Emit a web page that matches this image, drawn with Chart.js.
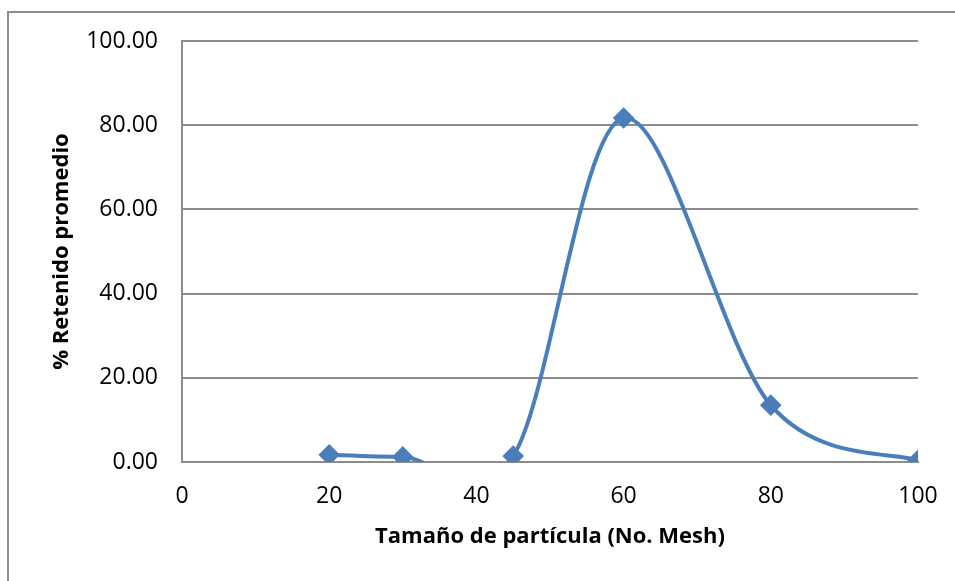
<!DOCTYPE html>
<html>
<head>
<meta charset="utf-8">
<script src="https://cdn.jsdelivr.net/npm/chart.js@4.4.0/dist/chart.umd.min.js"></script>
<style>
html,body{margin:0;padding:0;background:#fff;overflow:hidden;}
#wrap{position:absolute;left:0;top:0;width:955px;height:581px;}
#frame{position:absolute;left:7px;top:11px;width:1200px;height:900px;border-left:2px solid #8c8c8c;border-top:2px solid #8c8c8c;}
canvas{position:absolute;left:0;top:0;}
</style>
</head>
<body>
<div id="wrap">
<div id="frame"></div>
<canvas id="c" width="955" height="581"></canvas>
</div>
<script>
const meshSizes = [20, 30, 45, 60, 80, 100];
const retained = [1.7, 1.2, 1.4, 81.7, 13.5, 0.4];
const xTicks = [0, 20, 40, 60, 80, 100];
const yTicks = [0, 20, 40, 60, 80, 100];
const xTitle = 'Tamaño de partícula (No. Mesh)';
const yTitle = '% Retenido promedio';

const FONT = "'Open Sans', 'Liberation Sans', sans-serif";
const blue = '#4a7ebb';
const grid = '#8c8c8c';

// Excel-style smoothing: Catmull-Rom control points (1/6 of neighbour chord),
// computed from the pixel positions the library's scales gave the points.
const excelSmooth = {
  id: 'excelSmooth',
  beforeDatasetDraw(chart, args) {
    const meta = args.meta;
    const line = meta.dataset;
    line.updateControlPoints(chart.chartArea, meta.iScale.axis);
    const pts = meta.data;
    const k = 1 / 6;
    for (let i = 0; i < pts.length; i++) {
      const p = pts[i];
      const prev = pts[i - 1] || p;
      const next = pts[i + 1] || p;
      const dx = (next.x - prev.x) * k;
      const dy = (next.y - prev.y) * k;
      p.cp1x = p.x - dx; p.cp1y = p.y - dy;
      p.cp2x = p.x + dx; p.cp2y = p.y + dy;
    }
    line._path = undefined;
  }
};

new Chart(document.getElementById('c'), {
  type: 'line',
  data: {
    datasets: [{
      data: meshSizes.map((x, i) => ({x: x, y: retained[i]})),
      borderColor: blue,
      backgroundColor: blue,
      borderWidth: 4,
      tension: 0.4,
      pointStyle: 'rectRot',
      pointRadius: 8,
      pointHoverRadius: 8,
      pointBackgroundColor: blue,
      pointBorderColor: blue,
      fill: false
    }]
  },
  plugins: [excelSmooth],
  options: {
    responsive: false,
    animation: false,
    devicePixelRatio: 1,
    elements: { line: { capBezierPoints: false } },
    layout: { padding: { left: 49, top: 41, right: 37, bottom: 31 } },
    plugins: { legend: { display: false }, tooltip: { enabled: false } },
    scales: {
      x: {
        type: 'linear',
        min: 0, max: 100,
        afterBuildTicks: s => { s.ticks = xTicks.map(v => ({value: v})); },
        afterFit: s => { s.height = 88; s.paddingRight = 0; s.paddingLeft = 0; },
        grid: { display: false, drawTicks: false },
        border: { display: true, color: grid, width: 2 },
        ticks: { color: '#000', padding: 21, font: { family: FONT, size: 23 }, callback: v => String(v) },
        title: { display: true, text: xTitle, color: '#000', padding: { top: 0, bottom: 0 }, font: { family: FONT, size: 22, weight: 'bold' } }
      },
      y: {
        min: 0, max: 100,
        afterBuildTicks: s => { s.ticks = yTicks.map(v => ({value: v})); },
        afterFit: s => { s.width = 133; s.paddingTop = 0; s.paddingBottom = 0; },
        grid: { color: grid, lineWidth: 2, drawTicks: false },
        border: { display: true, color: grid, width: 2 },
        ticks: { color: '#000', padding: 24, font: { family: FONT, size: 23 }, callback: v => Number(v).toFixed(2) },
        title: { display: true, text: yTitle, color: '#000', padding: { top: 0, bottom: 0 }, font: { family: FONT, size: 22, weight: 'bold' } }
      }
    }
  }
});
</script>
</body>
</html>
